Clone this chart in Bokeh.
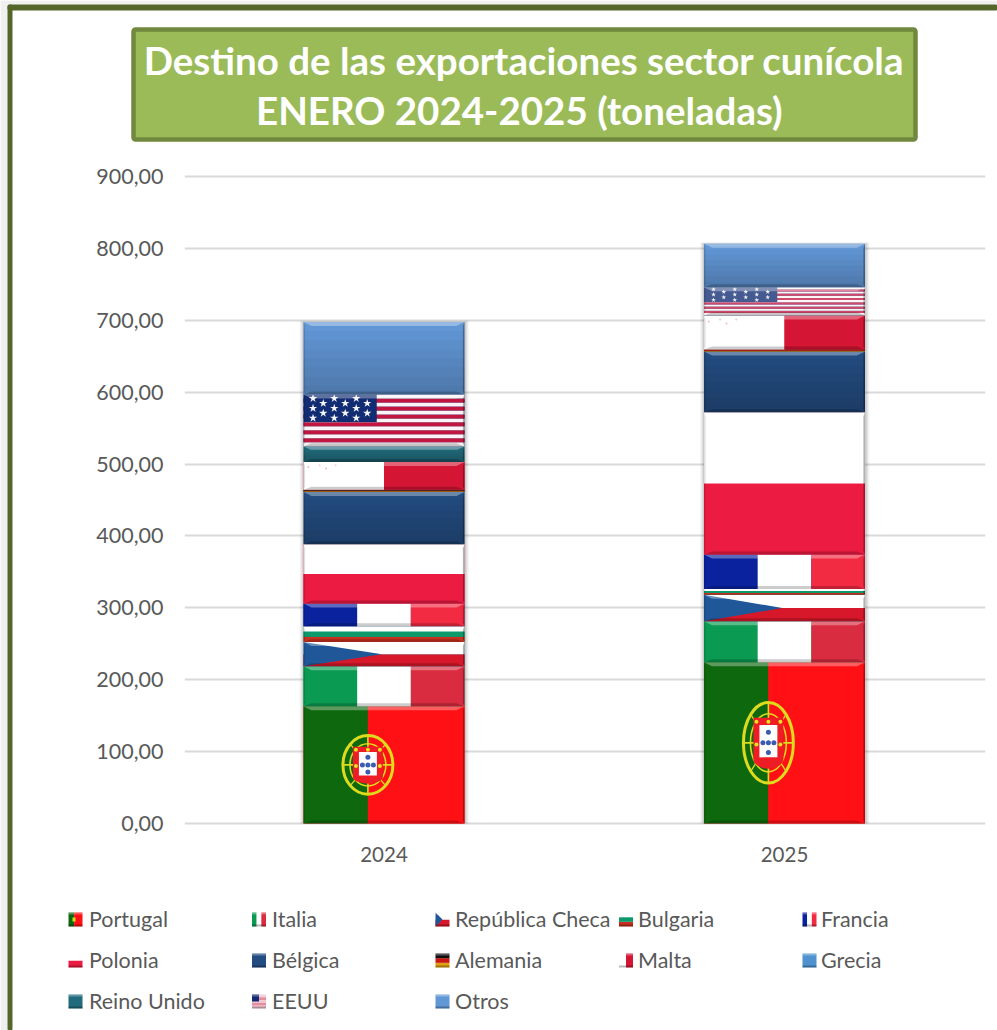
from bokeh.plotting import figure
from bokeh.embed import file_html
from bokeh.resources import INLINE
from bokeh.models import Range1d, FixedTicker, BoxAnnotation, Label, Legend, LegendItem
import numpy as np

# ---------------- data (toneladas) ----------------
years = ["2024", "2025"]
portugal = [163.0, 224.4]
italia = [55.6, 57.0]
rep_checa = [33.8, 36.7]
bulgaria = [22.0, 8.0]
francia = [31.5, 48.0]
polonia = [82.5, 198.0]
belgica = [72.8, 84.6]
alemania = [3.2, 2.8]
malta = [38.6, 47.2]
grecia = [0.0, 0.0]
reino_unido = [21.8, 0.4]
eeuu = [71.9, 39.0]
otros = [101.0, 60.3]
y_ticks = [0, 100, 200, 300, 400, 500, 600, 700, 800, 900]
y_tick_labels = ["0,00", "100,00", "200,00", "300,00", "400,00", "500,00", "600,00", "700,00", "800,00", "900,00"]
series_names = ["Portugal", "Italia", "República Checa", "Bulgaria", "Francia", "Polonia", "Bélgica",
                "Alemania", "Malta", "Grecia", "Reino Unido", "EEUU", "Otros"]
series_values = [portugal, italia, rep_checa, bulgaria, francia, polonia, belgica,
                 alemania, malta, grecia, reino_unido, eeuu, otros]
title_lines = ["Destino de las exportaciones sector cunícola", "ENERO  2024-2025 (toneladas)"]

# ---------------- style ----------------
W, H = 997, 1030
FL, FR, FT, FB = 184, 985, 176, 823
PAD = 3
GREEN_PT, RED_PT = "#0E690E", "#FF1014"
IT_G, IT_R = "#0A9A52", "#D92C40"
CZ_B, CZ_R = "#1F5799", "#D7182A"
BG_G, BG_R = "#0C9A6C", "#C8301F"
FR_B, FR_R = "#0A229E", "#F22A42"
PL_R = "#EC1B42"
BE = "#234C80"
MT_R = "#D41533"
GR = "#4F92CF"
UK = "#216B7C"
US_B, US_R = "#112C73", "#C21640"
OT = "#6297D6"
WHITE = "#FFFFFF"
GREY = "#595959"
FONT = "Lato"

V = {"Portugal": [(0.4, GREEN_PT), (0.6, RED_PT)], "Italia": [(1/3, IT_G), (1/3, WHITE), (1/3, IT_R)],
     "Francia": [(1/3, FR_B), (1/3, WHITE), (1/3, FR_R)], "Malta": [(0.5, WHITE), (0.5, MT_R)]}
H_BANDS = {"República Checa": [CZ_R, WHITE], "Bulgaria": [BG_R, BG_G, WHITE], "Polonia": [PL_R, WHITE],
           "Alemania": ["#E0A010", "#C81810", "#101010"]}
SOLID = {"Bélgica": BE, "Grecia": GR, "Reino Unido": UK, "Otros": OT, "EEUU": US_R}
MAIN = {"Portugal": RED_PT, "Italia": IT_G, "República Checa": CZ_B, "Bulgaria": BG_G, "Francia": FR_B,
        "Polonia": PL_R, "Bélgica": BE, "Alemania": "#101010", "Malta": MT_R, "Grecia": GR,
        "Reino Unido": UK, "EEUU": US_B, "Otros": OT}

# ---------------- sheet behind the chart: page frame, banner, legend (page pixels) ----------------
bg = figure(width=W, height=H, x_range=Range1d(0, W), y_range=Range1d(H, 0), output_backend="svg",
            toolbar_location=None, x_axis_location=None, y_axis_location=None, min_border=0,
            border_fill_color=WHITE, background_fill_color=WHITE, outline_line_color=None)
bg.grid.visible = False


def sbox(l, r, t, b, color, alpha=1.0, line=None, lw=0, radius=0):
    kw = {"border_radius": radius} if radius else {}
    bg.add_layout(BoxAnnotation(left=l, right=r, top=t, bottom=b, fill_color=color, fill_alpha=alpha,
                                line_color=line, line_alpha=1, line_width=lw, level="underlay", **kw))


sbox(0, W, 0, 4, "#F0F0F0")
sbox(0, 7, 0, H, "#F0F0F0")
sbox(7, W, 4, 10, "#54662A", radius=2)
sbox(7, 12, 4, H, "#54662A", radius=2)
sbox(133, 915, 29, 139, "#9BBB59", line="#71893F", lw=4.5, radius=2)
for txt, cy in zip(title_lines, [59, 109]):
    bg.add_layout(Label(x=523.5, y=cy, text=txt, text_align="center", text_baseline="middle", text_color=WHITE,
                        text_font=FONT, text_font_style="bold", text_font_size="38.5px"))


def swatch_q(l, r, t, b, color, alpha=1.0):
    bg.quad(left=[l], right=[r], top=[t], bottom=[b], fill_color=color, fill_alpha=alpha, line_color=None,
            level="overlay")


cols = [68, 251.5, 435, 618.5, 802]
rows = [919, 960, 1001]
swatch_base = {}
for k, name in enumerate(series_names):
    L = cols[k % 5]
    cy = rows[k // 5]
    T, B, R = cy - 7, cy + 7, L + 14
    # transparent anchor for the legend entry: the visible swatch is the little flag drawn over it
    swatch_base[name] = bg.quad(left=[L], right=[R], top=[T], bottom=[B], fill_color=MAIN[name], fill_alpha=0,
                                line_color=None)
    if name in V:
        c = L
        for frac, col in V[name]:
            swatch_q(c, c + 14 * frac, T, B, col)
            c += 14 * frac
    elif name in H_BANDS:
        bands = H_BANDS[name]
        n = len(bands)
        for j, col in enumerate(bands):
            swatch_q(L, R, B - 14 * (j + 1) / n, B - 14 * j / n, col)
        if name == "República Checa":
            bg.patch([L, L + 7, L], [T, cy, B], fill_color=CZ_B, line_color=None, level="overlay")
    elif name == "EEUU":
        for j in range(5):
            swatch_q(L, R, T + 14 * j / 5, T + 14 * (j + 1) / 5, "#E58CA0" if j % 2 else "#F2C4CF")
        swatch_q(L, L + 7, T, T + 7, US_B)
    else:
        swatch_q(L, R, T, B, SOLID[name])
    if name == "Portugal":
        swatch_q(L + 4, L + 7, cy - 2, cy + 2, "#DDDB1E")
    swatch_q(L, R, T, T + 2, "#FFFFFF", 0.3)
    swatch_q(L, R, B - 2, B, "#000000", 0.28)

legend = Legend(items=[LegendItem(label=n, renderers=[swatch_base[n]]) for n in series_names],
                ncols=5, orientation="horizontal", location=(69, 10),
                glyph_width=14, glyph_height=14, label_standoff=6, label_width=160, label_height=38,
                spacing=3, padding=0, margin=0, border_line_color=None, background_fill_color=None,
                background_fill_alpha=0, label_text_font=FONT, label_text_font_size="21.5px",
                label_text_color=GREY)
bg.add_layout(legend)

# ---------------- the chart itself ----------------
PXX = 2.0 / (FR - FL)
PXY = 900.0 / (FB - FT)
XS = -199.5 * PXX
p = figure(width=W, height=H, x_range=Range1d(XS, XS + 2), y_range=Range1d(-PAD * PXY, 900 + PAD * PXY),
           output_backend="svg", toolbar_location=None,
           min_border_left=FL, min_border_right=W - FR, min_border_top=FT - PAD, min_border_bottom=H - FB - PAD,
           border_fill_color=None, background_fill_color=None, outline_line_color=None)
p.styles = {"margin-top": f"-{H}px"}

p.xaxis.ticker = FixedTicker(ticks=[0, 1])
p.xaxis.major_label_overrides = {i: y for i, y in enumerate(years)}
p.yaxis.ticker = FixedTicker(ticks=y_ticks)
p.yaxis.major_label_overrides = dict(zip(y_ticks, y_tick_labels))
for ax in (p.xaxis[0], p.yaxis[0]):
    ax.axis_line_color = None
    ax.major_tick_line_color = None
    ax.minor_tick_line_color = None
    ax.major_tick_out = 0
    ax.major_tick_in = 0
    ax.major_label_text_color = GREY
    ax.major_label_text_font = FONT
    ax.major_label_text_font_size = "21.5px"
p.xaxis.major_label_text_font_size = "20.5px"
p.yaxis.major_label_standoff = 21
p.xaxis.major_label_standoff = 20
p.xgrid.visible = False
p.ygrid.ticker = FixedTicker(ticks=y_ticks)
p.ygrid.grid_line_color = "#D9D9D9"
p.ygrid.grid_line_width = 2


def qd(x0, x1, y0, y1, color, alpha=1.0):
    return p.quad(left=[x0], right=[x1], bottom=[y0], top=[y1], fill_color=color, fill_alpha=alpha, line_color=None)


def pg(xs, ys, color, alpha=1.0):
    return p.patch(xs, ys, fill_color=color, fill_alpha=alpha, line_color=None)


def bevel(x0, x1, y0, y1, gradient=False):
    h = y1 - y0
    if h <= 0:
        return
    dy = min(4 * PXY, h * 0.22)
    db = min(3 * PXY, h * 0.18)
    dx = min(8 * PXX, h * 0.45 * PXX / PXY)
    sx = 1.6 * PXX
    if gradient:
        n = 8
        for k in range(n):
            a, b = y1 - h * (k + 1) / n, y1 - h * k / n
            qd(x0, x1, a, b, "#000000", 0.028 * k)
    pg([x0, x1, x1 - dx, x0 + dx], [y1, y1, y1 - dy, y1 - dy], "#FFFFFF", 0.33)
    pg([x0, x1, x1 - dx, x0 + dx], [y0, y0, y0 + db, y0 + db], "#000000", 0.2)
    pg([x0, x0 + sx, x0 + sx, x0], [y0, y0 + db, y1 - dy, y1], "#000000", 0.12)
    pg([x1, x1 - sx, x1 - sx, x1], [y0, y0 + db, y1 - dy, y1], "#000000", 0.30)


BW = 0.402
vals = np.array(series_values, dtype=float)
tops = vals.cumsum(axis=0)
bases = tops - vals
totals = tops[-1]

for i, tot in enumerate(totals):
    for e, a in ((4, 0.035), (3, 0.045), (2, 0.06), (1, 0.08)):
        qd(i - BW / 2 - e * PXX, i + BW / 2 + (e + 0.5) * PXX, 0, tot + e * 0.4 * PXY, "#000000", a)

for s, name in enumerate(series_names):
    p.quad(left=[i - BW / 2 for i in range(2)], right=[i + BW / 2 for i in range(2)],
           bottom=bases[s], top=tops[s], fill_color=MAIN[name], line_color=None)
    for i in range(2):
        x0, x1, y0, y1 = i - BW / 2, i + BW / 2, bases[s][i], tops[s][i]
        h = y1 - y0
        if h <= 0:
            continue
        if name in V:
            c = x0
            for frac, col in V[name]:
                qd(c, c + frac * BW, y0, y1, col)
                c += frac * BW
        if name in H_BANDS:
            bands = H_BANDS[name]
            for k, col in enumerate(bands):
                qd(x0, x1, y0 + h * k / len(bands), y0 + h * (k + 1) / len(bands), col)
        if name == "República Checa":
            pg([x0, x0 + 0.487 * BW, x0], [y0, (y0 + y1) / 2, y1], CZ_B)
        if name == "EEUU":
            n = 13
            for k in range(n):
                qd(x0, x1, y0 + h * k / n, y0 + h * (k + 1) / n, US_R if k % 2 else "#FBF3F5")
            cb = y1 - 0.53 * h
            qd(x0, x0 + 0.455 * BW, cb, y1, US_B)
            sx, sy = [], []
            for row, fy in enumerate([0.14, 0.32, 0.50, 0.68, 0.86]):
                for fx in ([0.13, 0.42, 0.72] if row % 2 == 0 else [0.27, 0.57, 0.87]):
                    sx.append(x0 + fx * 0.455 * BW)
                    sy.append(y1 - fy * 0.53 * h)
            p.scatter(sx, sy, marker="star", size=max(5, 0.17 * h / PXY), fill_color="#F4F4F8", line_color=None)
            if h < 45:
                qd(x0, x1, y0, y1, WHITE, 0.22)
        if name == "Malta":
            fx = [0.03, 0.1, 0.14, 0.2]
            fy = [0.82, 0.88, 0.76, 0.88]
            p.scatter([x0 + a * BW for a in fx], [y0 + b * h for b in fy], marker="circle", size=2,
                      fill_color="#F6B8C4", line_color=None)
        if name == "Portugal":
            cx, cy = x0 + 0.4 * BW, (y0 + y1) / 2
            ew, eh = 0.31 * BW, 0.5 * h
            p.ellipse([cx], [cy], width=ew, height=eh, fill_color=None, line_color="#DDDB1E", line_width=3)
            p.ellipse([cx], [cy], width=ew * 0.72, height=eh * 0.72, fill_color=None, line_color="#DDDB1E", line_width=1.6)
            p.segment([cx, cx - ew / 2], [cy - eh / 2, cy], [cx, cx + ew / 2], [cy + eh / 2, cy],
                      line_color="#DDDB1E", line_width=1.6)
            p.segment([cx - ew * 0.35, cx - ew * 0.35], [cy - eh * 0.35, cy + eh * 0.35],
                      [cx + ew * 0.35, cx + ew * 0.35], [cy + eh * 0.35, cy - eh * 0.35],
                      line_color="#DDDB1E", line_width=1.3)
            qd(cx - ew * 0.3, cx + ew * 0.3, cy - eh * 0.2, cy + eh * 0.31, "#EE1C25")
            p.ellipse([cx], [cy - eh * 0.2], width=ew * 0.6, height=eh * 0.24, fill_color="#EE1C25", line_color=None)
            qd(cx - ew * 0.18, cx + ew * 0.18, cy - eh * 0.18, cy + eh * 0.22, WHITE)
            p.scatter([cx, cx - ew * 0.11, cx, cx + ew * 0.11, cx], [cy + eh * 0.13, cy, cy, cy, cy - eh * 0.12],
                      marker="circle", size=5, fill_color="#3C5CB0", line_color=None)
            p.scatter([cx - ew * 0.24, cx, cx + ew * 0.24, cx - ew * 0.24, cx + ew * 0.24],
                      [cy + eh * 0.26, cy + eh * 0.26, cy + eh * 0.26, cy - eh * 0.02, cy - eh * 0.02],
                      marker="circle", size=4, fill_color="#E5E020", line_color=None)
        bevel(x0, x1, y0, y1, gradient=name in ("Bélgica", "Otros", "Reino Unido"))

open("out.html", "w").write(file_html([bg, p], INLINE))
